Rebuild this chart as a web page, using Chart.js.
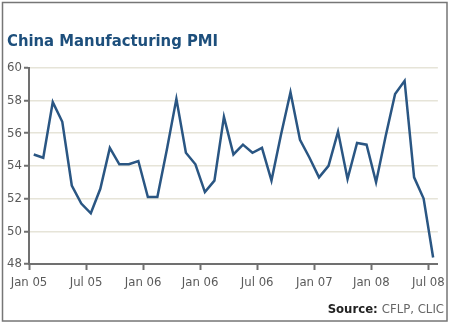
<!DOCTYPE html>
<html>
<head>
<meta charset="utf-8">
<script src="https://cdn.jsdelivr.net/npm/chart.js@4/dist/chart.umd.min.js"></script>
<style>
  html, body { margin: 0; padding: 0; background: #fff; }
  #wrap { width: 450px; height: 323px; position: relative; }
</style>
</head>
<body>
<div id="wrap"><canvas id="pmiChart"></canvas></div>
<script>
// monthly PMI, Jan 05 .. Jul 08
const months = [
    'Jan 05', 'Feb 05', 'Mar 05', 'Apr 05', 'May 05', 'Jun 05', 'Jul 05', 'Aug 05', 'Sep 05', 'Oct 05', 'Nov 05', 'Dec 05',
    'Jan 06', 'Feb 06', 'Mar 06', 'Apr 06', 'May 06', 'Jun 06', 'Jul 06', 'Aug 06', 'Sep 06', 'Oct 06', 'Nov 06', 'Dec 06',
    'Jan 07', 'Feb 07', 'Mar 07', 'Apr 07', 'May 07', 'Jun 07', 'Jul 07', 'Aug 07', 'Sep 07', 'Oct 07', 'Nov 07', 'Dec 07',
    'Jan 08', 'Feb 08', 'Mar 08', 'Apr 08', 'May 08', 'Jun 08', 'Jul 08'
];
const pmi = [
    54.7, 54.5, 57.9, 56.7, 52.8, 51.7, 51.1, 52.6, 55.1, 54.1, 54.1, 54.3,
    52.1, 52.1, 55.0, 58.1, 54.8, 54.1, 52.4, 53.1, 57.0, 54.7, 55.3, 54.8,
    55.1, 53.1, 55.9, 58.5, 55.6, 54.5, 53.3, 54.0, 56.1, 53.2, 55.4, 55.3,
    53.0, 55.8, 58.4, 59.2, 53.3, 52.0, 48.4
];
// axis labels as printed on the original (one every 6 months)
const tickLabels = ['Jan 05', 'Jul 05', 'Jan 06', 'Jan 06', 'Jul 06', 'Jan 07', 'Jan 08', 'Jul 08'];
const yTicks = [48, 50, 52, 54, 56, 58, 60];

const narrow = '"Liberation Sans Narrow", "Arial Narrow", "DejaVu Sans Condensed", sans-serif';

// frame + source note
const extras = {
    id: 'extras',
    afterDraw(chart) {
        const ctx = chart.ctx;
        ctx.save();
        ctx.strokeStyle = '#767676';
        ctx.lineWidth = 1.5;
        ctx.strokeRect(2.5, 2.5, 444.5, 318.5);

        ctx.textBaseline = 'alphabetic';
        ctx.font = '13px ' + narrow;
        const rest = 'CFLP, CLIC';
        const restW = ctx.measureText(rest).width;
        ctx.font = 'bold 13px ' + narrow;
        const src = 'Source: ';
        const srcW = ctx.measureText(src).width;
        const right = 444;
        ctx.fillStyle = '#222';
        ctx.fillText(src, right - restW - srcW, 313);
        ctx.font = '13px ' + narrow;
        ctx.fillStyle = '#666';
        ctx.fillText(rest, right - restW, 313);
        ctx.restore();
    }
};

const ctxPmi = document.getElementById('pmiChart').getContext('2d');
const chartPmi = new Chart(ctxPmi, {
    type: 'line',
    data: {
        datasets: [{
            label: 'China Manufacturing PMI',
            data: pmi.map((v, i) => ({ x: i, y: v, month: months[i] })),
            borderColor: '#2a5683',
            borderWidth: 2.5,
            pointRadius: 0,
            tension: 0,
            fill: false
        }]
    },
    options: {
        responsive: true,
        maintainAspectRatio: false,
        animation: false,
        layout: { padding: { left: 7, right: 12, top: 0, bottom: 0 } },
        scales: {
            x: {
                type: 'linear',
                min: -0.5,
                max: 42.5,
                afterBuildTicks: (scale) => {
                    scale.ticks = tickLabels.map((_, j) => ({ value: j * 6 - 0.5 }));
                },
                afterFit: (scale) => { scale.height = 59; },
                grid: { drawOnChartArea: false, drawTicks: true, tickLength: 6, tickColor: '#707070', tickWidth: 2 },
                border: { color: '#707070', width: 2 },
                ticks: {
                    autoSkip: false,
                    maxRotation: 0,
                    padding: 5,
                    color: '#5a5a5a',
                    font: { family: narrow, size: 13 },
                    callback: (value, index) => tickLabels[index]
                }
            },
            y: {
                min: 48,
                max: 60,
                afterBuildTicks: (scale) => {
                    scale.ticks = yTicks.map(v => ({ value: v }));
                },
                afterFit: (scale) => { scale.width = 22; },
                grid: { color: '#e6e4d8', lineWidth: 1.5, tickLength: 5, tickColor: '#707070', tickWidth: 2 },
                border: { color: '#707070', width: 2 },
                ticks: {
                    padding: 2,
                    color: '#5a5a5a',
                    font: { family: narrow, size: 13 }
                }
            }
        },
        plugins: {
            legend: { display: false },
            tooltip: { enabled: false },
            title: {
                display: true,
                text: 'China Manufacturing PMI',
                align: 'start',
                color: '#1d4f7c',
                font: { family: narrow, size: 16.5, weight: 'bold' },
                padding: { top: 32, bottom: 16 }
            }
        }
    },
    plugins: [extras]
});
</script>
</body>
</html>
